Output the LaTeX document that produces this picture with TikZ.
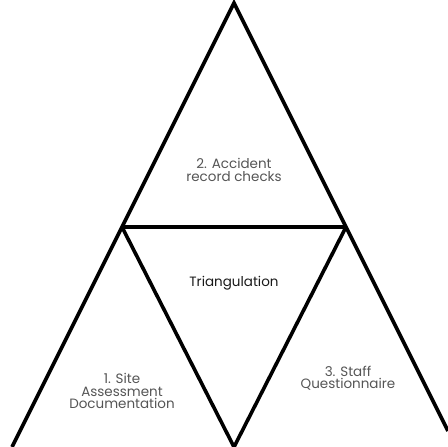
\documentclass[tikz,border=0pt]{standalone}
\usepackage{fontspec}
\setmainfont{Poppins}
\usepackage{xcolor}
\definecolor{labelgrey}{RGB}{85,85,85}
\tikzset{
	edge/.style={draw=black, line width=3.6pt, line join=miter},
	label/.style={align=center, font=\fontsize{13.5}{12.5}\selectfont, text=labelgrey, inner sep=0pt}
}

\begin{document}
\begin{tikzpicture}[x=1pt, y=1pt]
				\path [use as bounding box] (0,0) rectangle (448,447);
				% corners
				\coordinate (apex) at (234,444);
				\coordinate (midleft) at (122,220);
				\coordinate (midright) at (346,220);
				\coordinate (baseleft) at (12,0);
				\coordinate (baseright) at (448,16);
				\coordinate (basemid) at (234,0);
				\draw [edge]	(baseleft) to (midleft) to (apex) to (midright) to (baseright);
				\draw [edge]	(midleft) to (midright);
				\draw [edge]	(midleft) to (basemid) to (midright);
				% labels
				\node [label] (records) at (234,277) {2. Accident\\record checks};
				\node [label, text=black!90] (triangulation) at (234,164) {Triangulation};
				\node [label] (site) at (122,56) {1. Site\\Assessment\\Documentation};
				\node [label] (staff) at (348,69) {3. Staff\\Questionnaire};
			\end{tikzpicture}
\end{document}
